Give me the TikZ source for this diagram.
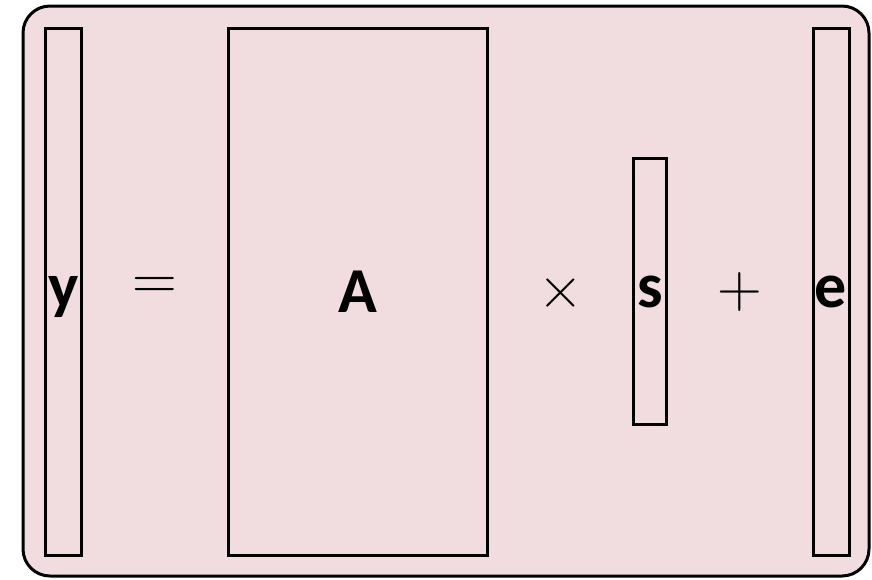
\documentclass[tikz,border=0pt]{standalone}
\usepackage{fontspec}
\setsansfont{Carlito}
\usepackage{tikz}
\usetikzlibrary{positioning,calc}
\definecolor{ink}     {HTML}{000000}
\definecolor{blush}   {HTML}{F1DCE0}
\tikzset{
  every node/.style={inner sep=0pt, outer sep=0pt},
  % --- nodes
  vec/.style   = {draw=ink, line width=3pt, fill=none,
                  font=\sffamily\bfseries\fontsize{64}{64}\selectfont},
  tallvec/.style = {vec, minimum width=36pt, minimum height=527pt},
  op/.style    = {font=\rmfamily\fontsize{62}{62}\selectfont},
  % --- frame
  frame/.style = {draw=ink, line width=3pt, fill=blush, rounded corners=27pt},
}
\begin{document}
\begin{tikzpicture}[x=1pt,y=-1pt]
  \useasboundingbox (0,0) rectangle (872,579);
  \draw[frame] (23,6) rectangle (869,576);

  \node[tallvec, text depth=0pt] (y) at (63.5,292) {y};
  \node[op] (eq) at (155,288) {=};
  \node[vec, minimum width=259pt, minimum height=527pt] (A) at (358,292) {A};
  \node[op] (times) at (561,293) {×};
  \node[vec, minimum width=33pt, minimum height=266pt] (s) at (650,291.5) {s};
  \node[op] (plus) at (740,292) {+};
  \node[tallvec] (e) at (831,292) {e};
\end{tikzpicture}
\end{document}
